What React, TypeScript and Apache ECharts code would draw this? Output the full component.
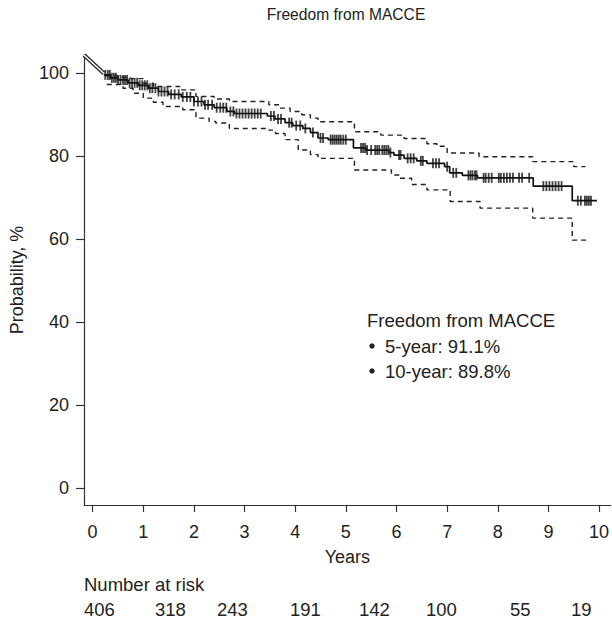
import React, { useEffect, useRef } from "react";
import * as echarts from "echarts";

// Kaplan-Meier estimate (years, %)
const kmTimes = [0.22, 0.35, 0.5, 0.7, 0.9, 1.1, 1.3, 1.5, 1.75, 2.0, 2.2, 2.4, 2.65, 2.8, 3.45, 3.6, 3.8, 3.95, 4.15, 4.3, 4.45, 4.65, 5.15, 5.4, 5.85, 5.95, 6.15, 6.4, 6.6, 6.95, 7.05, 7.3, 7.6, 8.7, 9.47, 9.96];
const kmSurv = [99.6, 98.9, 98.4, 97.7, 97.1, 96.4, 95.6, 94.9, 94.3, 93.2, 92.4, 91.7, 90.8, 90.3, 89.7, 89.0, 88.1, 87.4, 86.7, 85.7, 84.4, 84.0, 82.0, 81.5, 80.9, 80.3, 79.5, 78.9, 78.3, 77.5, 76.0, 75.4, 74.8, 72.8, 69.3, 69.3];

// Upper confidence bound
const upperTimes = [0.25, 0.5, 0.75, 1.0, 1.2, 1.72, 2.04, 2.4, 2.7, 3.48, 3.67, 3.9, 4.13, 4.3, 4.45, 5.17, 5.69, 6.15, 6.6, 6.8, 7.0, 7.63, 8.69, 9.5, 9.73];
const upperVals = [99.4, 99.0, 98.7, 97.6, 96.8, 96.0, 94.4, 93.8, 93.2, 92.4, 91.6, 90.8, 90.0, 89.2, 88.3, 85.9, 85.1, 84.3, 83.0, 82.4, 80.8, 79.9, 78.7, 77.5, 77.5];

// Lower confidence bound
const lowerTimes = [0.28, 0.6, 0.8, 1.0, 1.2, 1.39, 1.78, 2.04, 2.3, 2.43, 2.7, 3.48, 3.61, 3.8, 4.06, 4.3, 4.45, 5.17, 5.9, 6.05, 6.3, 6.6, 7.06, 7.65, 8.69, 9.47, 9.76];
const lowerVals = [97.3, 96.4, 95.2, 94.0, 93.0, 92.0, 91.2, 89.2, 88.4, 88.0, 86.7, 86.3, 85.5, 84.0, 81.5, 80.4, 79.5, 76.7, 75.5, 74.7, 73.2, 71.9, 69.1, 67.5, 65.1, 59.8, 59.6];

// Censoring times (years)
const censorTimes = [
  0.25, 0.3, 0.34, 0.38, 0.42, 0.46, 0.5, 0.55, 0.6, 0.64, 0.68, 0.73, 0.78, 0.83, 0.88, 0.93, 0.98,
  1.03, 1.08, 1.13, 1.18, 1.24, 1.3, 1.36, 1.42, 1.48, 1.55, 1.62, 1.7, 1.78, 1.86, 1.93, 2.0, 2.08,
  2.15, 2.22, 2.28, 2.36, 2.45, 2.52, 2.58, 2.64, 2.72, 2.78, 2.84, 2.9, 2.96, 3.02, 3.08, 3.14, 3.2,
  3.26, 3.32, 3.52, 3.58, 3.66, 3.72, 3.88, 3.93, 4.02, 4.1, 4.2, 4.35, 4.5, 4.55, 4.7, 4.74, 4.78,
  4.82, 4.86, 4.9, 4.95, 5.0, 5.3, 5.34, 5.38, 5.42, 5.5, 5.58, 5.62, 5.66, 5.72, 5.76, 5.8, 5.84,
  5.88, 6.05, 6.08, 6.22, 6.28, 6.34, 6.48, 6.52, 6.72, 6.78, 6.84, 7.0, 7.12, 7.18, 7.42, 7.46, 7.5,
  7.55, 7.58, 7.72, 7.76, 7.82, 7.88, 8.02, 8.06, 8.12, 8.18, 8.24, 8.3, 8.42, 8.48, 8.62, 8.9, 8.96,
  9.02, 9.08, 9.14, 9.2, 9.26, 9.58, 9.64, 9.72, 9.76, 9.8, 9.84,
];

// Leading segment drawn from the axis corner
const leadTimes = [-0.17, 0.22];
const leadVals = [104.4, 100.0];

const xTicks = [0, 1, 2, 3, 4, 5, 6, 7, 8, 9, 10];
const yTicks = [0, 20, 40, 60, 80, 100];
const riskCounts = [406, 318, 243, 191, 142, 100, 55, 19];
const legendLines = ["5-year: 91.1%", "10-year: 89.8%"];

const FONT = '"Liberation Sans", Arial, Helvetica, sans-serif';
const riskLeft = [84, 155, 217, 290, 359, 426, 510, 571];

function survAt(t: number): number {
  let v = kmSurv[0];
  for (let i = 0; i < kmTimes.length; i++) {
    if (kmTimes[i] <= t) v = kmSurv[i];
  }
  return v;
}

const zip = (a: number[], b: number[]) => a.map((x, i) => [x, b[i]]);

export default function App() {
  const ref = useRef<HTMLDivElement>(null);
  useEffect(() => {
    if (!ref.current) return;
    const chart = echarts.init(ref.current, undefined, { renderer: "svg" });
    const dashed = { color: "#222", width: 1.4, type: [5, 4] as any };
    const txt = (text: string, x: number, y: number, size: number, align = "left") => ({
      type: "text",
      x,
      y,
      style: { text, font: `${size}px ${FONT}`, fill: "#222", textAlign: align, textVerticalAlign: "middle" },
    });
    const graphics: any[] = [
      txt("Freedom from MACCE", 346, 14, 15.6, "center"),
      txt("Freedom from MACCE", 367, 320, 18.5),
      ...legendLines.flatMap((t, i) => [
        { type: "circle", shape: { cx: 372, cy: 346 + i * 25, r: 2.7 }, style: { fill: "#222" } },
        txt(t, 385, 346 + i * 25, 18.5),
      ]),
      txt("Number at risk", 84, 584, 18.5),
      ...riskCounts.map((n, i) => txt(String(n), riskLeft[i], 609, 18.5)),
    ];
    chart.setOption({
      animation: false,
      backgroundColor: "#fff",
      grid: { left: 80, right: 0, top: 55, bottom: 115, containLabel: false },
      xAxis: {
        type: "value",
        min: -0.17,
        max: 10.23,
        name: "Years",
        nameLocation: "middle",
        nameGap: 43,
        nameTextStyle: { fontSize: 18, color: "#222", fontFamily: FONT },
        axisLine: { show: true, onZero: false, lineStyle: { color: "#333", width: 1.2 } },
        axisTick: { show: true, customValues: xTicks, length: 7, lineStyle: { color: "#333", width: 1.2 } },
        axisLabel: { customValues: xTicks, fontSize: 18, color: "#222", fontFamily: FONT, margin: 18 },
        splitLine: { show: false },
      },
      yAxis: {
        type: "value",
        min: -4.02,
        max: 104.4,
        name: "Probability, %",
        nameLocation: "middle",
        nameGap: 58,
        nameTextStyle: { fontSize: 18, color: "#222", fontFamily: FONT },
        axisLine: { show: true, onZero: false, lineStyle: { color: "#333", width: 1.2 } },
        axisTick: { show: true, customValues: yTicks, length: 8, lineStyle: { color: "#333", width: 1.2 } },
        axisLabel: { customValues: yTicks, fontSize: 18, color: "#222", fontFamily: FONT, margin: 15 },
        splitLine: { show: false },
      },
      graphic: graphics,
      series: [
        { type: "line", data: zip(upperTimes, upperVals), step: "end", symbol: "none", lineStyle: dashed },
        { type: "line", data: zip(lowerTimes, lowerVals), step: "end", symbol: "none", lineStyle: dashed },
        { type: "line", data: zip(leadTimes, leadVals), symbol: "none", lineStyle: { color: "#222", width: 4 } },
        { type: "line", data: zip(leadTimes, leadVals), symbol: "none", lineStyle: { color: "#fff", width: 1.6 } },
        {
          type: "line",
          data: zip(kmTimes, kmSurv),
          step: "end",
          symbol: "none",
          lineStyle: { color: "#111", width: 1.7 },
        },
        {
          type: "scatter",
          data: censorTimes.map((t) => [t, survAt(t)]),
          symbol: "rect",
          symbolSize: [1.8, 10],
          itemStyle: { color: "#111" },
        },
      ],
    });
    return () => chart.dispose();
  }, []);
  return <div ref={ref} style={{ position: "fixed", left: 0, top: 0, width: 612, height: 620 }} />;
}
